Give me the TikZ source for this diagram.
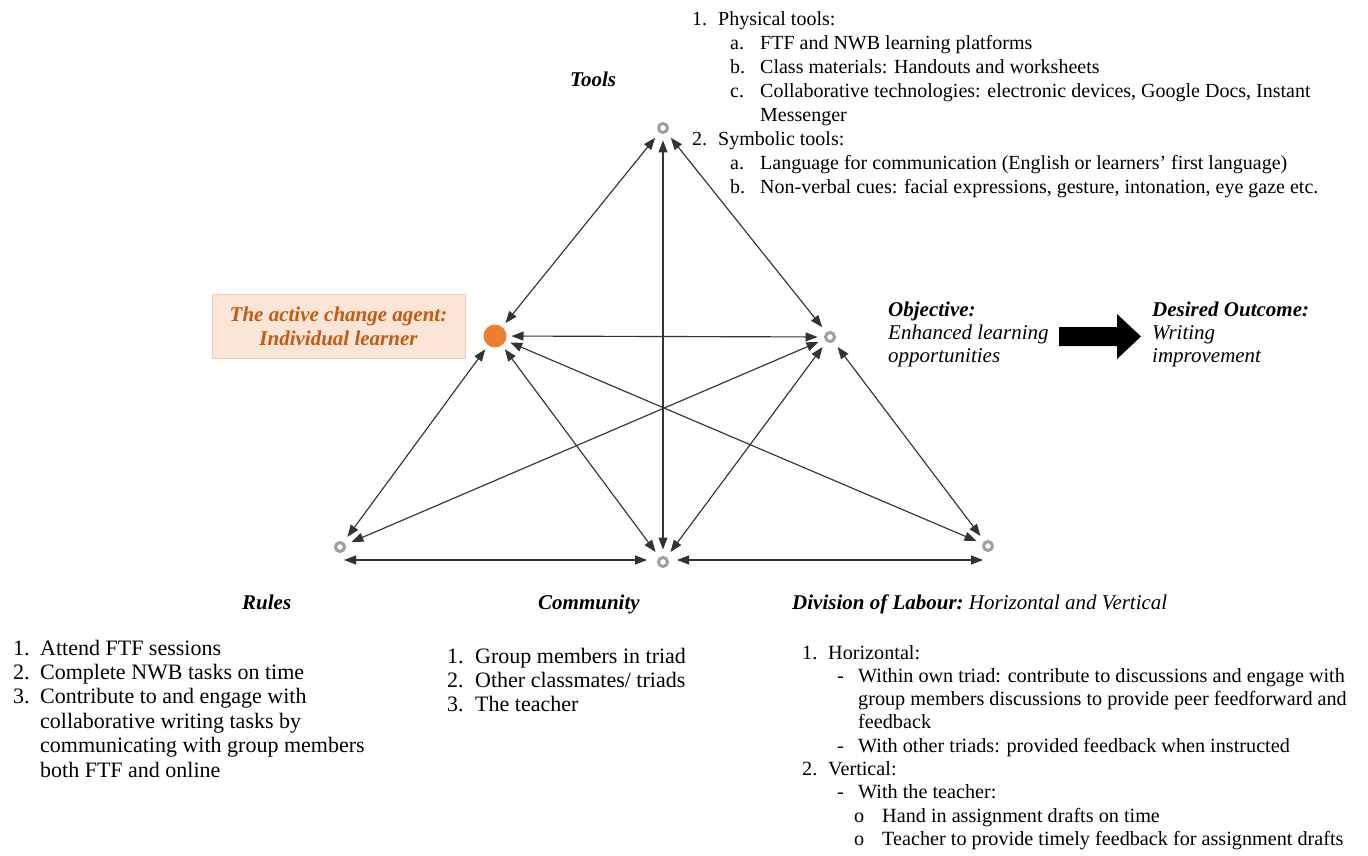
\documentclass[tikz,border=0pt]{standalone}
\usepackage{fontspec}
\setmainfont{Liberation Serif}
\usetikzlibrary{arrows.meta,calc}
\definecolor{agentfill}{HTML}{FBE5D6}
\definecolor{agentline}{HTML}{F8CBAD}
\definecolor{agenttext}{HTML}{C55A11}
\definecolor{agentdot}{HTML}{ED7D31}

\begin{document}
\begin{tikzpicture}[x=1pt,y=-1pt,
  ring/.style={circle, draw=gray!75, line width=3pt, minimum size=9pt, inner sep=0pt, outer sep=8pt},
  agent/.style={circle, fill=agentdot, minimum size=23pt, inner sep=0pt, outer sep=5pt},
  link/.style={{Triangle[length=12pt,width=9pt]}-{Triangle[length=12pt,width=9pt]}, line width=1.15pt, draw=black!80},
  head/.style={font=\fontsize{21}{24}\selectfont\bfseries\itshape, inner sep=0pt, anchor=base west},
  block/.style={inner sep=0pt, anchor=base west},
  agentbox/.style={fill=agentfill, draw=agentline, line width=1pt, minimum width=253pt, minimum height=64pt,
    inner sep=0pt, align=center, text=agenttext, font=\fontsize{21}{24}\selectfont\bfseries\itshape}
]
\useasboundingbox (0,0) rectangle (1368,856);

% activity system nodes
\node[ring]  (T) at (663,128) {};
\node[agent] (S) at (495,336) {};
\node[ring]  (O) at (830,337) {};
\node[ring]  (R) at (340,547) {};
\node[ring]  (C) at (663,562) {};
\node[ring]  (D) at (988,546) {};

% links of the triangle
\draw[link] (T) -- (S);
\draw[link] (T) -- (O);
\draw[link] (T) -- (C);
\draw[link] (S) -- (O);
\draw[link] (S) -- (R);
\draw[link] (S) -- (C);
\draw[link] (S) -- (D);
\draw[link] (O) -- (R);
\draw[link] (O) -- (C);
\draw[link] (O) -- (D);
\draw[link, shorten <=4pt, shorten >=16pt] ($(R.center |- C.center)+(0,-2)$) -- ($(C.center)+(0,-2)$);
\draw[link, shorten <=14pt, shorten >=5pt] ($(C.center)+(0,-2)$) -- ($(D.center |- C.center)+(0,-2)$);

% subject label
\node[agentbox] (agent) at (338.5,326) {The active change agent:\\Individual learner};

% tools
\node[head] (toolshead) at (570,87) {Tools};
\node[block, font=\fontsize{20}{24}\selectfont] (toolslist) at (692,26) {%
\begin{tabular}[t]{@{}l@{}}
\makebox[26pt][l]{1.}Physical tools:\\
\hspace*{38pt}\makebox[30pt][l]{a.}FTF and NWB learning platforms\\
\hspace*{38pt}\makebox[30pt][l]{b.}Class materials: Handouts and worksheets\\
\hspace*{38pt}\makebox[30pt][l]{c.}Collaborative technologies: electronic devices, Google Docs, Instant\\
\hspace*{68pt}Messenger\\
\makebox[26pt][l]{2.}Symbolic tools:\\
\hspace*{38pt}\makebox[30pt][l]{a.}Language for communication (English or learners' first language)\\
\hspace*{38pt}\makebox[30pt][l]{b.}Non-verbal cues: facial expressions, gesture, intonation, eye gaze etc.
\end{tabular}};

% object and outcome
\node[block, font=\fontsize{21}{23}\selectfont\itshape] (objective) at (888,316) {%
\begin{tabular}[t]{@{}l@{}}
\textbf{Objective:}\\
Enhanced learning\\
opportunities
\end{tabular}};
\fill (1059,327) -- (1117,327) -- (1117,314) -- (1141,336.5) -- (1117,359) -- (1117,346) -- (1059,346) -- cycle;
\node[block, font=\fontsize{21}{23}\selectfont\itshape] (outcome) at (1152,316) {%
\begin{tabular}[t]{@{}l@{}}
\textbf{Desired Outcome:}\\
Writing\\
improvement
\end{tabular}};

% rules
\node[head] (ruleshead) at (242,609) {Rules};
\node[block, font=\fontsize{22}{24.4}\selectfont] (ruleslist) at (13,655) {%
\begin{tabular}[t]{@{}l@{}}
\makebox[27pt][l]{1.}Attend FTF sessions\\
\makebox[27pt][l]{2.}Complete NWB tasks on time\\
\makebox[27pt][l]{3.}Contribute to and engage with\\
\hspace*{27pt}collaborative writing tasks by\\
\hspace*{27pt}communicating with group members\\
\hspace*{27pt}both FTF and online
\end{tabular}};

% community
\node[head] (communityhead) at (538,609) {Community};
\node[block, font=\fontsize{22}{24.4}\selectfont] (communitylist) at (447,663) {%
\begin{tabular}[t]{@{}l@{}}
\makebox[28pt][l]{1.}Group members in triad\\
\makebox[28pt][l]{2.}Other classmates/ triads\\
\makebox[28pt][l]{3.}The teacher
\end{tabular}};

% division of labour
\node[head] (divisionhead) at (792,609) {Division of Labour:{\mdseries\ Horizontal and Vertical}};
\node[block, font=\fontsize{20.2}{23.3}\selectfont] (divisionlist) at (802,659) {%
\begin{tabular}[t]{@{}l@{}}
\makebox[26pt][l]{1.}Horizontal:\\
\hspace*{35pt}\makebox[21pt][l]{-}Within own triad: contribute to discussions and engage with\\
\hspace*{56pt}group members discussions to provide peer feedforward and\\
\hspace*{56pt}feedback\\
\hspace*{35pt}\makebox[21pt][l]{-}With other triads: provided feedback when instructed\\
\makebox[26pt][l]{2.}Vertical:\\
\hspace*{35pt}\makebox[21pt][l]{-}With the teacher:\\
\hspace*{52pt}\makebox[28pt][l]{o}Hand in assignment drafts on time\\
\hspace*{52pt}\makebox[28pt][l]{o}Teacher to provide timely feedback for assignment drafts
\end{tabular}};
\end{tikzpicture}
\end{document}
